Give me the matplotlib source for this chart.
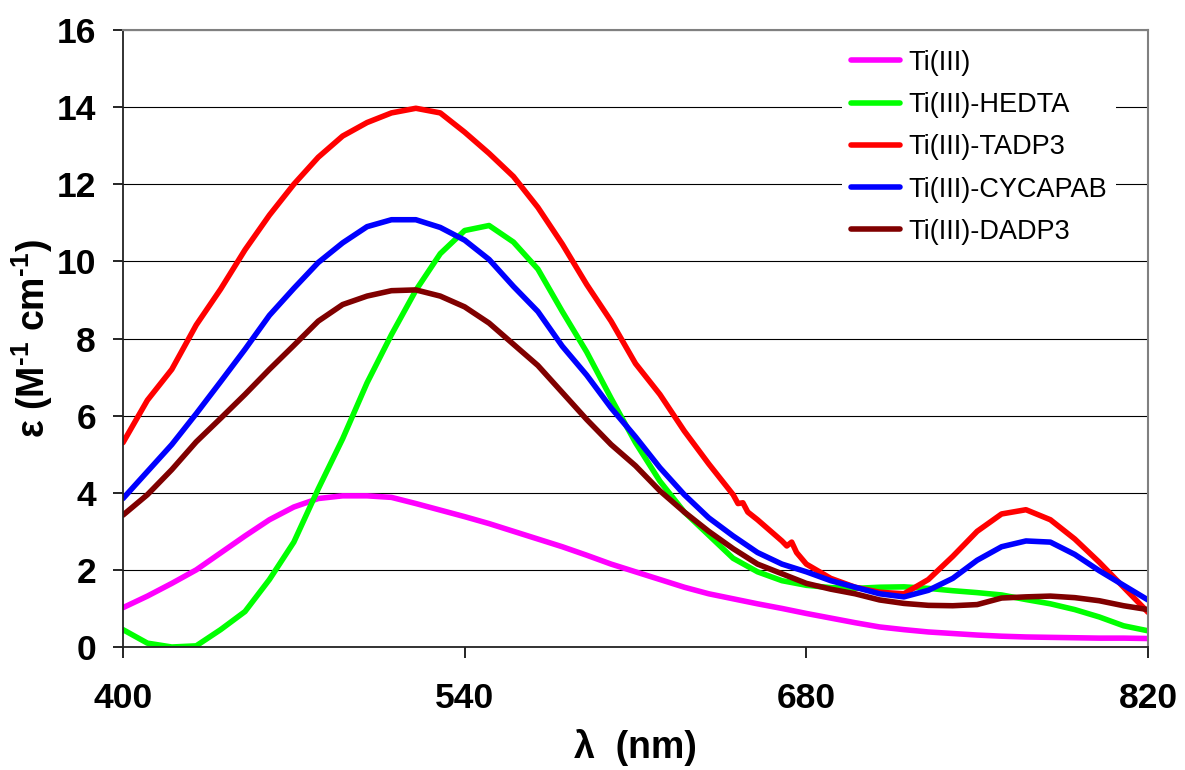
import matplotlib
matplotlib.use("Agg")
import matplotlib.pyplot as plt

plt.rcParams['font.family'] = ['Liberation Sans', 'DejaVu Sans']
plt.rcParams['mathtext.fontset'] = 'custom'
plt.rcParams['mathtext.bf'] = 'Liberation Sans:bold'
plt.rcParams['mathtext.rm'] = 'Liberation Sans:bold'

# wavelength grid (nm)
wl = [400, 410, 420, 430, 440, 450, 460, 470, 480, 490, 500, 510, 520, 530, 540,
      550, 560, 570, 580, 590, 600, 610, 620, 630, 640, 650, 660, 670, 680, 690,
      700, 710, 720, 730, 740, 750, 760, 770, 780, 790, 800, 810, 820]

ti = [1.02, 1.32, 1.65, 2.0, 2.44, 2.88, 3.3, 3.63, 3.85, 3.92, 3.92, 3.88, 3.72,
      3.55, 3.38, 3.2, 3.0, 2.8, 2.6, 2.38, 2.15, 1.95, 1.75, 1.55, 1.38, 1.25,
      1.12, 1.0, 0.87, 0.75, 0.63, 0.52, 0.45, 0.39, 0.35, 0.31, 0.28, 0.26,
      0.25, 0.24, 0.23, 0.23, 0.22]

hedta = [0.45, 0.1, 0.0, 0.03, 0.45, 0.92, 1.75, 2.72, 4.1, 5.4, 6.85, 8.1, 9.25,
         10.2, 10.8, 10.93, 10.5, 9.8, 8.7, 7.65, 6.45, 5.3, 4.3, 3.5, 2.9, 2.3,
         1.95, 1.72, 1.6, 1.54, 1.52, 1.55, 1.56, 1.52, 1.46, 1.41, 1.35, 1.23,
         1.12, 0.97, 0.78, 0.55, 0.42]

# TADP3 has two small spikes near 654 and 674 nm
wl_tadp3 = [400, 410, 420, 430, 440, 450, 460, 470, 480, 490, 500, 510, 520, 530,
            540, 550, 560, 570, 580, 590, 600, 610, 620, 630, 640, 650, 652, 654,
            656, 660, 670, 672, 674, 676, 680, 690, 700, 710, 720, 730, 740, 750,
            760, 770, 780, 790, 800, 810, 820]
tadp3 = [5.3, 6.4, 7.2, 8.35, 9.28, 10.3, 11.2, 12.0, 12.7, 13.25, 13.6, 13.85,
         13.97, 13.85, 13.35, 12.8, 12.2, 11.4, 10.45, 9.4, 8.45, 7.35, 6.55, 5.6,
         4.75, 3.95, 3.72, 3.74, 3.5, 3.3, 2.75, 2.62, 2.72, 2.45, 2.15, 1.78,
         1.55, 1.42, 1.38, 1.75, 2.35, 3.0, 3.45, 3.56, 3.3, 2.8, 2.2, 1.55, 0.9]

cycapab = [3.85, 4.55, 5.25, 6.05, 6.88, 7.72, 8.6, 9.3, 9.97, 10.48, 10.9, 11.08,
           11.08, 10.88, 10.55, 10.05, 9.35, 8.7, 7.8, 7.05, 6.2, 5.45, 4.65, 3.95,
           3.35, 2.88, 2.45, 2.15, 1.95, 1.72, 1.55, 1.38, 1.3, 1.47, 1.78, 2.25,
           2.6, 2.75, 2.72, 2.4, 1.98, 1.6, 1.22]

dadp3 = [3.42, 3.95, 4.6, 5.32, 5.93, 6.55, 7.2, 7.82, 8.45, 8.88, 9.1, 9.24, 9.26,
         9.1, 8.82, 8.4, 7.85, 7.3, 6.6, 5.9, 5.25, 4.7, 4.05, 3.5, 3.0, 2.55,
         2.15, 1.9, 1.65, 1.5, 1.38, 1.22, 1.13, 1.08, 1.07, 1.1, 1.27, 1.3, 1.32,
         1.28, 1.2, 1.07, 0.97]

labels = ['Ti(III)', 'Ti(III)-HEDTA', 'Ti(III)-TADP3', 'Ti(III)-CYCAPAB', 'Ti(III)-DADP3']
colors = ['#FF00FF', '#00FF00', '#FF0000', '#0000FF', '#800000']
xs = [wl, wl, wl_tadp3, wl, wl]
ys = [ti, hedta, tadp3, cycapab, dadp3]

fig = plt.figure(figsize=(11.85, 7.7), dpi=100)
ax = fig.add_axes([123 / 1185, 1 - 647 / 770, 1025 / 1185, 617 / 770])

for x, y, c, lab in zip(xs, ys, colors, labels):
    ax.plot(x, y, color=c, lw=4.0, label=lab, solid_joinstyle='round', solid_capstyle='round')

ax.set_xlim(400, 820)
ax.set_ylim(0, 16)
ax.set_xticks([400, 540, 680, 820])
ax.set_yticks(range(0, 17, 2))
ax.set_axisbelow(True)
ax.yaxis.grid(True, color='black', lw=0.8)

for s in ['top', 'right']:
    ax.spines[s].set_color('#808080')
    ax.spines[s].set_linewidth(1.5)
for s in ['left', 'bottom']:
    ax.spines[s].set_color('#222222')
    ax.spines[s].set_linewidth(1.3)

ax.tick_params(axis='x', direction='out', length=8, width=1.2, pad=17, labelsize=25.5)
ax.tick_params(axis='y', direction='out', length=7.5, width=1.2, pad=12, labelsize=25.5)
for t in ax.get_xticklabels() + ax.get_yticklabels():
    t.set_fontweight('bold')

ax.set_xlabel('λ  (nm)', fontsize=27, fontweight='bold', labelpad=10)
ax.set_ylabel(r'ε (M$^{\mathbf{‐1}}$ cm$^{\mathbf{‐1}}$)', fontsize=27, fontweight='bold', labelpad=1)

leg = ax.legend(loc='upper left', bbox_to_anchor=((842 - 123) / 1025, 0.983), borderaxespad=0,
                fontsize=19.5, frameon=True, fancybox=False, framealpha=1, facecolor='white',
                edgecolor='none', borderpad=0.35, labelspacing=0.6, handlelength=1.8,
                handletextpad=0.3)

fig.savefig('out.png', dpi=100)
